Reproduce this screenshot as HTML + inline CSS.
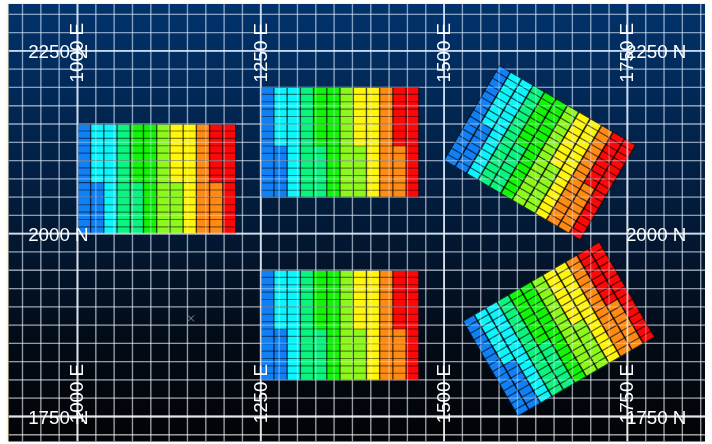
<!DOCTYPE html>
<html><head><meta charset="utf-8"><title>Block model plan view</title>
<style>
html,body{margin:0;padding:0;background:#fff;}
body{width:712px;height:444px;overflow:hidden;position:relative;}
svg{position:absolute;left:0;top:0;display:block;will-change:transform;opacity:.9999;}
text{font-family:"Liberation Sans",Arial,sans-serif;font-size:18.75px;fill:#fff;}
</style></head><body>
<svg width="712" height="444" viewBox="0 0 712 444">
<defs>
<linearGradient id="bg" x1="0" y1="0" x2="0" y2="1">
<stop offset="0" stop-color="#01336c"/>
<stop offset="0.45" stop-color="#021c3c"/>
<stop offset="0.8" stop-color="#020a14"/>
<stop offset="1" stop-color="#020306"/>
</linearGradient>
<linearGradient id="cl" x1="0" y1="0" x2="1" y2="0"><stop offset="0" stop-color="#fffdf4"/><stop offset="1" stop-color="#fff0c0"/></linearGradient>
<linearGradient id="ct" x1="0" y1="0" x2="0" y2="1"><stop offset="0" stop-color="#fffdf4"/><stop offset="1" stop-color="#fff3cc"/></linearGradient>
<linearGradient id="lg" gradientUnits="userSpaceOnUse" x1="0" y1="4.0" x2="0" y2="441.5">
<stop offset="0" stop-color="#dcecff"/><stop offset="0.45" stop-color="#e6f0ff"/><stop offset="0.8" stop-color="#f6f9ff"/><stop offset="1" stop-color="#ffffff"/>
</linearGradient>
<clipPath id="clip"><rect x="8.5" y="4.0" width="696.5" height="437.5"/></clipPath>
<clipPath id="bc"><rect x="0" y="0" width="158.6" height="110.6"/></clipPath>
<g id="gridA" fill="none" stroke="url(#lg)">
<path d="M22.50 4.0V441.5M40.83 4.0V441.5M59.16 4.0V441.5M95.82 4.0V441.5M114.15 4.0V441.5M132.48 4.0V441.5M150.81 4.0V441.5M169.14 4.0V441.5M187.47 4.0V441.5M205.80 4.0V441.5M224.13 4.0V441.5M242.46 4.0V441.5M279.12 4.0V441.5M297.45 4.0V441.5M315.78 4.0V441.5M334.11 4.0V441.5M352.44 4.0V441.5M370.77 4.0V441.5M389.10 4.0V441.5M407.43 4.0V441.5M425.76 4.0V441.5M462.42 4.0V441.5M480.75 4.0V441.5M499.08 4.0V441.5M517.41 4.0V441.5M535.74 4.0V441.5M554.07 4.0V441.5M572.40 4.0V441.5M590.73 4.0V441.5M609.06 4.0V441.5M645.72 4.0V441.5M664.05 4.0V441.5M682.38 4.0V441.5M700.71 4.0V441.5" stroke-opacity="0.38" stroke-width="1.3"/>
<path d="M8.5 14.33H705.0M8.5 32.61H705.0M8.5 69.17H705.0M8.5 87.45H705.0M8.5 105.73H705.0M8.5 124.01H705.0M8.5 142.29H705.0M8.5 160.57H705.0M8.5 178.85H705.0M8.5 197.13H705.0M8.5 215.41H705.0M8.5 251.97H705.0M8.5 270.25H705.0M8.5 288.53H705.0M8.5 306.81H705.0M8.5 325.09H705.0M8.5 343.37H705.0M8.5 361.65H705.0M8.5 379.93H705.0M8.5 398.21H705.0M8.5 434.77H705.0" stroke-opacity="0.38" stroke-width="1.3"/>
<path d="M77.49 4.0V441.5M260.79 4.0V441.5M444.09 4.0V441.5M627.39 4.0V441.5" stroke-opacity="0.6" stroke-width="1.8"/>
<path d="M8.5 50.89H705.0M8.5 233.69H705.0M8.5 416.49H705.0" stroke-opacity="0.6" stroke-width="1.8"/>
</g>
<g id="gridB" fill="none" stroke="url(#lg)">
<path d="M22.50 4.0V441.5M40.83 4.0V441.5M59.16 4.0V441.5M95.82 4.0V441.5M114.15 4.0V441.5M132.48 4.0V441.5M150.81 4.0V441.5M169.14 4.0V441.5M187.47 4.0V441.5M205.80 4.0V441.5M224.13 4.0V441.5M242.46 4.0V441.5M279.12 4.0V441.5M297.45 4.0V441.5M315.78 4.0V441.5M334.11 4.0V441.5M352.44 4.0V441.5M370.77 4.0V441.5M389.10 4.0V441.5M407.43 4.0V441.5M425.76 4.0V441.5M462.42 4.0V441.5M480.75 4.0V441.5M499.08 4.0V441.5M517.41 4.0V441.5M535.74 4.0V441.5M554.07 4.0V441.5M572.40 4.0V441.5M590.73 4.0V441.5M609.06 4.0V441.5M645.72 4.0V441.5M664.05 4.0V441.5M682.38 4.0V441.5M700.71 4.0V441.5" stroke-opacity="0.36" stroke-width="1.3"/>
<path d="M8.5 14.33H705.0M8.5 32.61H705.0M8.5 69.17H705.0M8.5 87.45H705.0M8.5 105.73H705.0M8.5 124.01H705.0M8.5 142.29H705.0M8.5 160.57H705.0M8.5 178.85H705.0M8.5 197.13H705.0M8.5 215.41H705.0M8.5 251.97H705.0M8.5 270.25H705.0M8.5 288.53H705.0M8.5 306.81H705.0M8.5 325.09H705.0M8.5 343.37H705.0M8.5 361.65H705.0M8.5 379.93H705.0M8.5 398.21H705.0M8.5 434.77H705.0" stroke-opacity="0.36" stroke-width="1.3"/>
<path d="M77.49 4.0V441.5M260.79 4.0V441.5M444.09 4.0V441.5M627.39 4.0V441.5" stroke-opacity="0.75" stroke-width="1.8"/>
<path d="M8.5 50.89H705.0M8.5 233.69H705.0M8.5 416.49H705.0" stroke-opacity="0.75" stroke-width="1.8"/>
</g>
<g id="blk" clip-path="url(#bc)">
<rect x="0.00" y="0" width="13.27" height="58.99" fill="#1080f4"/>
<rect x="0.00" y="58.99" width="13.27" height="51.61" fill="#1080f4"/>
<rect x="13.22" y="0" width="13.27" height="58.99" fill="#0cf4fc"/>
<rect x="13.22" y="58.99" width="13.27" height="51.61" fill="#1080f4"/>
<rect x="26.43" y="0" width="13.27" height="58.99" fill="#0cf4fc"/>
<rect x="26.43" y="58.99" width="13.27" height="51.61" fill="#0cf4fc"/>
<rect x="39.65" y="0" width="13.27" height="58.99" fill="#0cf480"/>
<rect x="39.65" y="58.99" width="13.27" height="51.61" fill="#0cf480"/>
<rect x="52.87" y="0" width="13.27" height="58.99" fill="#12f408"/>
<rect x="52.87" y="58.99" width="13.27" height="51.61" fill="#0cf480"/>
<rect x="66.08" y="0" width="13.27" height="58.99" fill="#12f408"/>
<rect x="66.08" y="58.99" width="13.27" height="51.61" fill="#12f408"/>
<rect x="79.30" y="0" width="13.27" height="58.99" fill="#8cf81c"/>
<rect x="79.30" y="58.99" width="13.27" height="51.61" fill="#8cf81c"/>
<rect x="92.52" y="0" width="13.27" height="58.99" fill="#fff60c"/>
<rect x="92.52" y="58.99" width="13.27" height="51.61" fill="#8cf81c"/>
<rect x="105.73" y="0" width="13.27" height="58.99" fill="#fff60c"/>
<rect x="105.73" y="58.99" width="13.27" height="51.61" fill="#fff60c"/>
<rect x="118.95" y="0" width="13.27" height="58.99" fill="#ff8a14"/>
<rect x="118.95" y="58.99" width="13.27" height="51.61" fill="#ff8a14"/>
<rect x="132.17" y="0" width="13.27" height="58.99" fill="#fc0808"/>
<rect x="132.17" y="58.99" width="13.27" height="51.61" fill="#ff8a14"/>
<rect x="145.38" y="0" width="13.27" height="58.99" fill="#fc0808"/>
<rect x="145.38" y="58.99" width="13.27" height="51.61" fill="#fc0808"/>
<path d="M0 0.00H158.60M0 7.37H158.60M0 14.75H158.60M0 22.12H158.60M0 29.49H158.60M0 36.87H158.60M0 44.24H158.60M0 51.61H158.60M0 58.99H158.60M0 66.36H158.60M0 73.73H158.60M0 81.11H158.60M0 88.48H158.60M0 95.85H158.60M0 103.23H158.60M0 110.60H158.60" stroke="#000" stroke-opacity="0.47" stroke-width="1.15" fill="none"/>
<path d="M0.00 0V110.60M13.22 0V110.60M26.43 0V110.60M39.65 0V110.60M52.87 0V110.60M66.08 0V110.60M79.30 0V110.60M92.52 0V110.60M105.73 0V110.60M118.95 0V110.60M132.17 0V110.60M145.38 0V110.60M158.60 0V110.60" stroke="#000" stroke-opacity="0.64" stroke-width="1.4" fill="none"/>
<rect x="0.5" y="0.5" width="157.60" height="109.60" stroke="#00142c" stroke-opacity="0.8" stroke-width="1" fill="none"/>
</g>
<g id="blkr" clip-path="url(#bc)">
<rect x="0.00" y="0" width="13.27" height="58.99" fill="#1080f4"/>
<rect x="0.00" y="58.99" width="13.27" height="51.61" fill="#1080f4"/>
<rect x="13.22" y="0" width="13.27" height="58.99" fill="#0cf4fc"/>
<rect x="13.22" y="58.99" width="13.27" height="51.61" fill="#1080f4"/>
<rect x="26.43" y="0" width="13.27" height="58.99" fill="#0cf4fc"/>
<rect x="26.43" y="58.99" width="13.27" height="51.61" fill="#0cf4fc"/>
<rect x="39.65" y="0" width="13.27" height="58.99" fill="#0cf480"/>
<rect x="39.65" y="58.99" width="13.27" height="51.61" fill="#0cf480"/>
<rect x="52.87" y="0" width="13.27" height="58.99" fill="#12f408"/>
<rect x="52.87" y="58.99" width="13.27" height="51.61" fill="#0cf480"/>
<rect x="66.08" y="0" width="13.27" height="58.99" fill="#12f408"/>
<rect x="66.08" y="58.99" width="13.27" height="51.61" fill="#12f408"/>
<rect x="79.30" y="0" width="13.27" height="58.99" fill="#8cf81c"/>
<rect x="79.30" y="58.99" width="13.27" height="51.61" fill="#8cf81c"/>
<rect x="92.52" y="0" width="13.27" height="58.99" fill="#fff60c"/>
<rect x="92.52" y="58.99" width="13.27" height="51.61" fill="#8cf81c"/>
<rect x="105.73" y="0" width="13.27" height="58.99" fill="#fff60c"/>
<rect x="105.73" y="58.99" width="13.27" height="51.61" fill="#fff60c"/>
<rect x="118.95" y="0" width="13.27" height="58.99" fill="#ff8a14"/>
<rect x="118.95" y="58.99" width="13.27" height="51.61" fill="#ff8a14"/>
<rect x="132.17" y="0" width="13.27" height="58.99" fill="#fc0808"/>
<rect x="132.17" y="58.99" width="13.27" height="51.61" fill="#ff8a14"/>
<rect x="145.38" y="0" width="13.27" height="58.99" fill="#fc0808"/>
<rect x="145.38" y="58.99" width="13.27" height="51.61" fill="#fc0808"/>
<path d="M0 0.00H158.60M0 7.37H158.60M0 14.75H158.60M0 22.12H158.60M0 29.49H158.60M0 36.87H158.60M0 44.24H158.60M0 51.61H158.60M0 58.99H158.60M0 66.36H158.60M0 73.73H158.60M0 81.11H158.60M0 88.48H158.60M0 95.85H158.60M0 103.23H158.60M0 110.60H158.60" stroke="#000" stroke-opacity="0.6" stroke-width="1.25" fill="none"/>
<path d="M0.00 0V110.60M13.22 0V110.60M26.43 0V110.60M39.65 0V110.60M52.87 0V110.60M66.08 0V110.60M79.30 0V110.60M92.52 0V110.60M105.73 0V110.60M118.95 0V110.60M132.17 0V110.60M145.38 0V110.60M158.60 0V110.60" stroke="#000" stroke-opacity="0.78" stroke-width="1.65" fill="none"/>
<rect x="0.5" y="0.5" width="157.60" height="109.60" stroke="#00142c" stroke-opacity="0.8" stroke-width="1" fill="none"/>
</g>
</defs>
<rect x="0" y="0" width="712" height="444" fill="#fff"/>
<rect x="5.9" y="2.2" width="2.7" height="439.3" fill="url(#cl)"/>
<rect x="7.5" y="2.2" width="697.5" height="1.9" fill="url(#ct)"/>
<rect x="8.5" y="4.0" width="696.5" height="437.5" fill="url(#bg)"/>
<g clip-path="url(#clip)" opacity="0.999">
<use href="#gridA"/>
<use href="#blk" transform="translate(156.7 178.9) rotate(0) translate(-79.30 -55.30)"/>
<use href="#blk" transform="translate(340.0 142.3) rotate(0) translate(-79.30 -55.30)"/>
<use href="#blk" transform="translate(340.0 325.3) rotate(0) translate(-79.30 -55.30)"/>
<use href="#blkr" transform="translate(539.8 152.7) rotate(30.3) translate(-79.30 -55.30)"/>
<use href="#blkr" transform="translate(558.7 329.1) rotate(-30.1) translate(-79.30 -55.30)"/>
<use href="#gridB"/>
<path d="M188 315.4l6 6M194 315.4l-6 6" stroke="#aab0bc" stroke-width="0.8" fill="none"/>
<text x="28.2" y="57.9">2250 N</text>
<text x="625.9" y="57.9">2250 N</text>
<text x="28.2" y="240.7">2000 N</text>
<text x="625.9" y="240.7">2000 N</text>
<text x="28.2" y="423.5">1750 N</text>
<text x="625.9" y="423.5">1750 N</text>
<text transform="translate(83.3 82.4) rotate(-90)">1000 E</text>
<text transform="translate(83.3 423.3) rotate(-90)">1000 E</text>
<text transform="translate(266.6 82.4) rotate(-90)">1250 E</text>
<text transform="translate(266.6 423.3) rotate(-90)">1250 E</text>
<text transform="translate(449.9 82.4) rotate(-90)">1500 E</text>
<text transform="translate(449.9 423.3) rotate(-90)">1500 E</text>
<text transform="translate(633.2 82.4) rotate(-90)">1750 E</text>
<text transform="translate(633.2 423.3) rotate(-90)">1750 E</text>
</g></svg></body></html>
